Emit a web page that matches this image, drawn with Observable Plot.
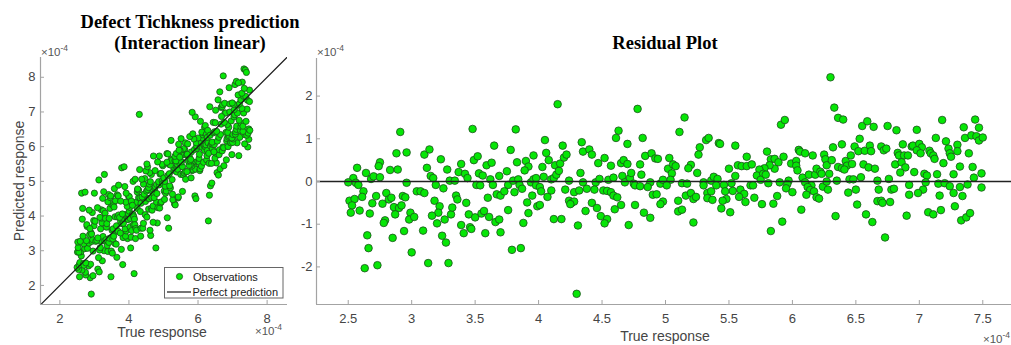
<!DOCTYPE html>
<html><head><meta charset="utf-8">
<script src="https://cdn.jsdelivr.net/npm/d3@7"></script>
<script src="https://cdn.jsdelivr.net/npm/@observablehq/plot@0.6"></script>
<style>
html,body{margin:0;padding:0;background:#fff;overflow:hidden;}
#root{position:relative;width:1011px;height:345px;overflow:hidden;background:#fff;}
#root svg{position:absolute;top:0;max-width:none;}
</style>
</head><body><div id="root"></div>
<script>
// ---- Data (values in units of 1e-4) ----
// True response of each observation
const trueResp = [
2.91,2.88,2.96,2.75,2.74,2.57,2.64,2.83,2.89,2.54,2.50,2.56,2.58,2.68,2.70,2.75,2.96,2.62,2.61,2.72,2.80,2.82,2.84,2.93,2.95,3.04,2.51,2.55,2.53,2.52,2.69,2.77,2.86,2.90,2.92,2.59,2.67,2.99,2.98,3.02,2.79,2.78,2.87,2.94,2.85,2.65,2.66,3.00,2.63,2.73,
3.48,3.65,3.10,3.14,3.23,3.12,3.28,3.39,3.49,3.52,3.59,3.63,3.15,3.17,3.19,3.25,3.30,3.34,3.37,3.42,3.44,3.53,3.56,3.62,3.51,3.54,3.64,3.69,3.07,3.10,3.18,3.22,3.21,3.16,3.20,3.26,3.31,3.32,3.35,3.36,3.43,3.60,3.67,3.70,3.45,3.50,3.55,3.57,3.61,3.66,3.69,3.39,3.41,3.46,3.47,3.58,3.70,3.09,3.24,3.27,3.13,3.29,
4.15,3.82,3.78,3.83,3.96,4.05,4.06,3.90,3.92,3.89,3.75,3.76,3.80,3.84,3.85,3.87,3.94,3.96,3.98,3.98,4.01,4.02,4.03,4.04,4.08,4.10,4.12,4.13,4.14,4.16,4.17,4.19,4.20,4.22,4.24,4.21,4.28,4.32,4.33,4.34,4.35,4.35,3.73,3.81,3.95,3.91,3.99,4.01,4.07,4.10,3.92,3.76,3.88,4.12,4.18,4.24,4.26,4.28,4.25,4.31,3.79,3.86,4.30,
4.78,4.63,4.61,4.82,4.70,4.40,4.42,4.47,4.52,4.57,4.65,4.67,4.70,4.80,4.84,4.89,4.92,4.94,4.45,4.48,4.55,4.59,4.66,4.68,4.72,4.73,4.75,4.76,4.80,4.81,4.88,4.86,4.96,4.98,4.38,4.44,4.51,4.54,4.57,4.59,4.62,4.42,4.46,4.37,4.65,4.60,4.76,4.90,4.93,4.98,4.96,4.49,4.54,4.52,4.83,4.88,4.71,
5.15,5.11,5.32,5.34,5.27,5.26,5.42,5.43,5.55,5.03,5.02,5.06,5.08,5.05,5.04,5.01,5.20,5.18,5.25,5.13,5.17,5.30,5.30,5.36,5.38,5.41,5.40,5.46,5.50,5.55,5.52,5.53,5.57,5.60,5.64,5.64,5.59,5.62,5.58,5.63,5.16,5.20,5.22,5.24,5.33,5.36,5.33,5.37,5.47,5.48,5.45,5.44,5.51,5.10,5.10,5.13,5.22,
5.91,5.94,5.80,5.83,5.86,5.89,5.93,5.86,5.82,5.78,5.74,5.68,5.72,5.77,5.75,5.79,5.81,5.90,5.97,5.96,5.95,5.99,6.03,6.03,6.04,6.05,6.06,6.10,6.16,6.25,6.26,6.08,6.10,6.13,6.15,6.18,6.19,6.22,6.23,6.27,6.29,6.12,6.14,6.17,6.19,6.21,6.11,6.24,6.27,6.28,6.00,5.88,5.70,5.67,5.76,5.85,6.07,5.92,5.83,5.69,6.30,
6.33,6.36,6.40,6.55,6.59,6.64,6.75,6.82,6.53,6.32,6.39,6.49,6.52,6.57,6.61,6.62,6.70,6.72,6.74,6.83,6.84,6.87,6.88,6.91,6.94,6.31,6.36,6.39,6.42,6.43,6.46,6.47,6.41,6.56,6.60,6.65,6.81,6.86,6.89,6.85,6.35,6.45,6.48,6.54,6.67,6.76,6.78,6.80,6.44,6.50,6.68,6.67,6.70,6.71,6.77,6.92,6.92,6.51,6.34,6.58,6.63,6.73,6.90,
7.18,7.44,6.98,7.35,7.47,7.13,7.21,7.36,7.41,7.45,7.47,7.50,6.95,7.00,7.02,6.98,7.01,7.08,7.09,7.11,7.12,7.23,7.24,7.25,7.30,7.30,7.19,7.39,7.32,7.42,6.96,7.04,7.06,7.14,7.27,7.43,7.49,7.05,7.15,7.20,7.24,7.32,7.38,7.49,7.03,6.99,7.16,7.27,7.34,7.28,7.07,7.11,7.17,7.33,7.37,7.40
];
// Residual (true - predicted) of each observation, same order
const residual = [
1.16,0.66,0.68,0.45,0.36,0.32,0.20,0.27,0.28,0.08,-0.02,-0.03,-0.08,0.06,0.12,0.10,-0.03,-0.23,-0.36,-0.34,-0.27,-0.42,-0.38,-0.34,-0.37,-0.23,-0.45,-0.41,-0.56,-0.73,-0.51,-0.52,-0.60,-0.62,-0.56,-0.68,-0.75,-0.73,-0.89,-0.83,-0.91,-0.97,-0.77,-1.16,-1.32,-1.26,-1.56,-1.66,-2.03,-1.96,
1.23,0.84,0.63,0.75,0.52,0.32,0.28,0.41,0.50,0.59,0.38,0.44,0.13,0.08,-0.08,-0.16,0.02,0.02,0.22,0.18,0.08,0.19,0.14,0.05,-0.08,-0.09,-0.08,0.13,-0.23,-0.27,-0.45,-0.58,-0.73,-0.80,-0.98,-0.89,-0.77,-0.61,-0.33,-0.42,-0.50,-0.38,-0.30,-0.33,-0.77,-0.84,-0.75,-0.69,-0.83,-0.95,-0.89,-1.02,-1.21,-1.07,-1.11,-1.21,-1.19,-1.15,-1.27,-1.43,-1.91,-1.91,
1.81,1.22,0.74,0.45,0.61,0.97,0.67,0.48,0.35,0.26,0.24,-0.08,0.02,0.05,-0.08,-0.17,-0.02,0.05,-0.09,0.08,-0.13,-0.23,0.34,0.11,0.50,0.05,0.08,0.38,0.16,0.25,0.42,0.84,0.56,0.63,0.02,-0.19,-0.25,-0.21,0.20,0.92,0.70,-0.02,-0.23,-0.25,-0.33,-0.49,-0.58,-0.55,-0.36,-0.21,-0.74,-0.67,-0.97,-0.88,-0.88,-0.45,-0.50,-0.47,-0.53,-1.03,-1.60,-1.56,-2.63,
1.70,1.19,1.02,1.02,0.88,0.75,0.63,0.43,0.55,0.37,0.43,0.50,0.41,0.40,0.60,0.66,0.54,0.53,-0.02,0.06,0.04,0.09,0.13,-0.02,0.08,0.20,-0.05,-0.09,-0.11,0.16,-0.02,-0.13,-0.05,0.04,-0.17,-0.19,-0.21,-0.22,-0.25,-0.33,-0.37,-0.50,-0.62,-0.69,-0.55,-0.65,-0.55,-0.31,-0.30,-0.47,-0.53,-0.81,-0.88,-0.98,-0.73,-0.85,-1.02,
1.50,1.16,0.97,1.02,0.80,0.63,0.90,0.88,0.84,0.55,0.30,0.40,0.36,0.19,0.04,-0.09,0.39,0.31,0.20,-0.04,-0.05,-0.02,-0.09,0.02,0.11,0.06,-0.09,-0.08,0.30,0.13,-0.04,-0.22,0.38,0.36,0.58,0.36,-0.19,-0.29,-0.36,-0.48,-0.33,-0.27,-0.41,-0.36,-0.27,-0.23,-0.39,-0.43,-0.23,-0.41,-0.45,-0.63,-0.72,-0.45,-0.70,-0.66,-0.96,
1.33,1.44,0.70,0.52,0.53,0.45,0.58,0.30,0.38,0.31,0.28,0.40,0.14,0.18,0.04,0.16,-0.04,-0.02,0.02,-0.06,-0.16,0.42,0.48,0.37,0.26,0.74,0.70,0.66,0.61,0.63,0.52,0.09,-0.02,0.16,-0.09,0.16,0.30,0.23,0.18,0.38,0.18,-0.13,-0.20,-0.23,-0.37,-0.40,-0.31,-0.12,0.00,-0.19,-0.25,-0.34,-0.38,-0.09,-0.53,-0.52,-0.66,-0.94,-1.16,-0.09,2.44,
1.73,1.49,1.45,1.30,1.41,1.28,1.30,1.20,1.00,0.80,0.87,0.82,0.71,0.72,0.84,0.71,0.82,0.73,0.77,0.67,0.61,0.87,0.61,0.61,0.82,0.50,0.34,0.31,0.48,0.37,0.61,0.41,0.28,0.40,0.33,0.30,0.40,0.45,0.33,0.21,0.02,0.05,0.05,0.10,0.02,0.06,-0.19,-0.17,-0.26,-0.19,-0.19,-0.46,-0.45,-0.50,-0.48,-0.08,-0.31,-0.54,-0.81,-0.77,-0.95,-1.31,-0.80,
1.44,1.45,1.21,1.27,1.26,1.02,0.94,1.02,1.08,1.06,0.96,1.03,0.84,0.88,0.80,0.73,0.66,0.72,0.66,0.61,0.53,0.77,0.66,0.58,0.86,0.71,0.43,0.66,0.35,0.34,0.22,0.18,0.14,0.17,0.17,0.09,0.19,-0.02,-0.05,-0.04,-0.11,-0.13,-0.07,-0.14,-0.19,-0.27,-0.33,-0.27,-0.34,-0.58,-0.72,-0.77,-0.67,-0.91,-0.84,-0.74
];
// Tick values
const leftXTicks = [2, 4, 6, 8];
const leftYTicks = [2, 3, 4, 5, 6, 7, 8];
const rightXTicks = [2.5, 3, 3.5, 4, 4.5, 5, 5.5, 6, 6.5, 7, 7.5];
const rightYTicks = [-2, -1, 0, 1, 2];
// Axis limits
const leftXLim = [1.44, 8.59];
const leftYLim = [1.45, 8.57];
const rightXLim = [2.25, 7.75];
const rightYLim = [-2.88, 2.88];
const perfectLine = [1.44, 8.59];
const zeroLine = [0];

// table built from the arrays: predicted = true - residual
const n = Math.min(trueResp.length, residual.length);
const obs = d3.range(n).map(i => ({t: trueResp[i], r: residual[i], p: +(trueResp[i] - residual[i]).toFixed(2)}));

const AX = "#a3a3a3", TXT = "#454545";
const FILL = "#06e606", EDGE = "#1d4f1d";
const sans = "'Liberation Sans', Arial, Helvetica, sans-serif";
const fmt = d => String(d);
const styleObj = {fontFamily: sans, fontSize: "13px", color: TXT, background: "transparent", overflow: "visible"};

const left = Plot.plot({
  width: 300, height: 345,
  marginLeft: 40, marginRight: 13, marginTop: 57, marginBottom: 41,
  x: {domain: leftXLim, label: null},
  y: {domain: leftYLim, label: null},
  style: styleObj,
  marks: [
    Plot.dot(obs, {x: "t", y: "p", r: 3.1, fill: FILL, stroke: EDGE, strokeWidth: 0.8, clip: true}),
    Plot.line(perfectLine, {x: d => d, y: d => d, stroke: "#1a1a1a", strokeWidth: 1.2, clip: true}),
    Plot.ruleX([leftXLim[0]], {stroke: AX, strokeWidth: 1.2}),
    Plot.ruleY([leftYLim[0]], {stroke: AX, strokeWidth: 1.2}),
    Plot.axisX(leftXTicks, {tickSize: 0, tickPadding: 9, tickFormat: fmt, fill: TXT, label: null}),
    Plot.axisX(leftXTicks, {tickSize: 4, dy: -4, text: null, stroke: AX, label: null}),
    Plot.axisY(leftYTicks, {tickSize: 0, tickPadding: 5, tickFormat: fmt, fill: TXT, label: null}),
    Plot.axisY(leftYTicks, {tickSize: 4, dx: 4, text: null, stroke: AX, label: null})
  ]
});
left.style.left = "0px";

const right = Plot.plot({
  width: 738, height: 345,
  marginLeft: 40, marginRight: 0, marginTop: 58, marginBottom: 41,
  x: {domain: rightXLim, label: null},
  y: {domain: rightYLim, label: null},
  style: styleObj,
  marks: [
    Plot.dot(obs, {x: "t", y: "r", r: 3.8, fill: FILL, stroke: EDGE, strokeWidth: 0.8}),
    Plot.ruleY(zeroLine, {stroke: "#222", strokeWidth: 1.3}),
    Plot.ruleX([rightXLim[0]], {stroke: AX, strokeWidth: 1.2}),
    Plot.ruleY([rightYLim[0]], {stroke: AX, strokeWidth: 1.2}),
    Plot.axisX(rightXTicks, {tickSize: 0, tickPadding: 9, tickFormat: fmt, fill: TXT, label: null}),
    Plot.axisX(rightXTicks, {tickSize: 4, dy: -4, text: null, stroke: AX, label: null}),
    Plot.axisY(rightYTicks, {tickSize: 0, tickPadding: 4, tickFormat: fmt, fill: TXT, label: null}),
    Plot.axisY(rightYTicks, {tickSize: 4, dx: 4, text: null, stroke: AX, label: null})
  ]
});
right.style.left = "276px";

const root = document.getElementById("root");
root.appendChild(left);
root.appendChild(right);

// ---- Annotation overlay: titles, axis labels, exponents, legend ----
const ov = d3.create("svg").attr("width", 1011).attr("height", 345)
  .style("left", "0px").style("pointer-events", "none");
const serif = "'Liberation Serif', 'Times New Roman', serif";
function title(x, y, s) {
  ov.append("text").attr("x", x).attr("y", y).attr("text-anchor", "middle")
    .attr("font-family", serif).attr("font-weight", "bold").attr("font-size", 18.5).attr("fill", "#000").text(s);
}
title(190, 28, "Defect Tichkness prediction");
title(190, 49, "(Interaction linear)");
title(665, 49, "Residual Plot");

function label(x, y, s, rot) {
  const t = ov.append("text").attr("text-anchor", "middle").attr("font-family", sans)
    .attr("font-size", 14).attr("fill", TXT).text(s);
  if (rot) t.attr("transform", `translate(${x},${y}) rotate(-90)`); else t.attr("x", x).attr("y", y);
}
label(23.5, 181, "Predicted response", true);
label(162, 337, "True response");
label(665, 341, "True response");

function expo(x, y) {
  const t = ov.append("text").attr("x", x).attr("y", y).attr("font-family", sans)
    .attr("font-size", 11.5).attr("fill", "#555");
  t.append("tspan").text("\u00d710");
  t.append("tspan").attr("dy", -5).attr("font-size", 8.5).text("-4");
}
expo(41, 56);
expo(317, 56);
expo(255, 335);
expo(983, 343);

// legend
const lg = ov.append("g");
lg.append("rect").attr("x", 164.5).attr("y", 267.5).attr("width", 118.5).attr("height", 30.5)
  .attr("fill", "#fff").attr("stroke", "#666").attr("stroke-width", 1);
lg.append("circle").attr("cx", 179.5).attr("cy", 276.5).attr("r", 3.1)
  .attr("fill", FILL).attr("stroke", EDGE).attr("stroke-width", 0.8);
lg.append("line").attr("x1", 167).attr("x2", 191).attr("y1", 292).attr("y2", 292)
  .attr("stroke", "#1a1a1a").attr("stroke-width", 1.2);
lg.append("text").attr("x", 193).attr("y", 280.5).attr("font-family", sans).attr("font-size", 11)
  .attr("fill", "#222").text("Observations");
lg.append("text").attr("x", 192.5).attr("y", 296).attr("font-family", sans).attr("font-size", 11)
  .attr("fill", "#222").text("Perfect prediction");

root.appendChild(ov.node());
</script></body></html>
